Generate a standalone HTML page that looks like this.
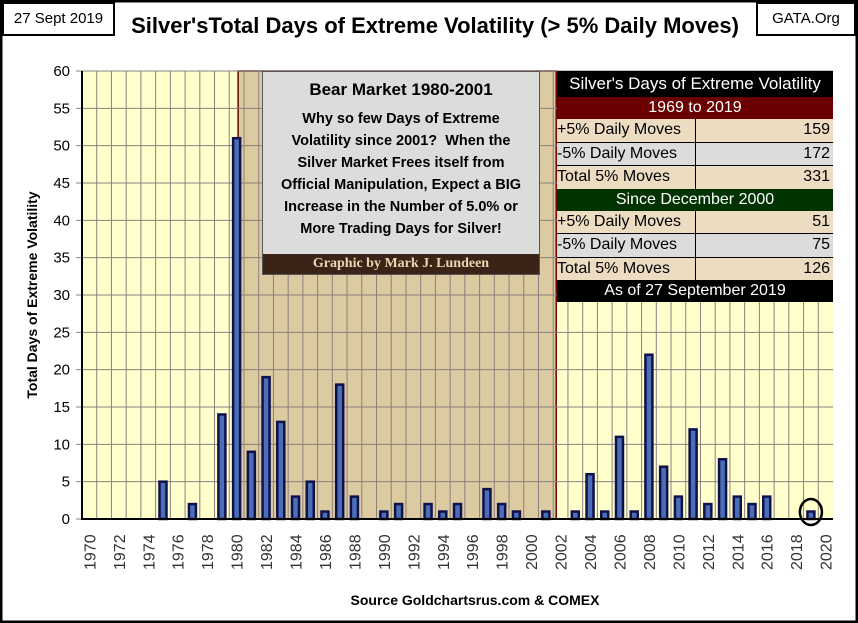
<!DOCTYPE html>
<html><head><meta charset="utf-8"><style>
body{margin:0;background:#fff;}
#wrap{position:relative;width:858px;height:623px;overflow:hidden;font-family:"Liberation Sans",sans-serif;}
.t{position:absolute;}
</style></head><body>
<div id="wrap">
<svg width="858" height="623" style="position:absolute;left:0;top:0">
<rect x="1" y="1" width="856" height="621" fill="#fff" stroke="#000" stroke-width="3"/>
<g id="plot"></g>
</svg>
<div class="t" style="left:2px;top:2px;width:109px;height:30px;border:2px solid #000;font-size:15px;line-height:30px;text-align:center;background:#fff">27 Sept 2019</div>
<div class="t" style="left:756px;top:2px;width:96px;height:30px;border:2px solid #000;font-size:15px;line-height:30px;text-align:center;background:#fff">GATA.Org</div>
<div class="t" style="left:115px;top:13px;width:640px;text-align:center;font-weight:bold;font-size:22px">Silver'sTotal Days of Extreme Volatility (&gt; 5% Daily Moves)</div>
<div class="t" style="left:32px;top:295px;width:0;height:0"><div style="transform:translate(-50%,-50%) rotate(-90deg);white-space:nowrap;font-weight:bold;font-size:14px;position:absolute">Total Days of Extreme Volatility</div></div>
<div class="t" style="left:250px;top:592px;width:450px;text-align:center;font-weight:bold;font-size:14px">Source Goldchartsrus.com &amp; COMEX</div>
<div class="t" style="left:262px;top:71px;width:276px;height:202px;background:#dcdcdc;border:1px solid #555;text-align:center;font-weight:bold">
<div style="font-size:17px;margin-top:8px">Bear Market 1980-2001</div>
<div style="font-size:14.5px;line-height:22px;margin-top:8px">Why so few Days of Extreme<br>Volatility since 2001?&nbsp; When the<br>Silver Market Frees itself from<br>Official Manipulation, Expect a BIG<br>Increase in the Number of 5.0% or<br>More Trading Days for Silver!</div>
<div style="position:absolute;left:0;right:0;bottom:0;height:20px;background:#3a2418;color:#e8d8b0;font-family:'Liberation Serif',serif;font-size:14px;line-height:20px">Graphic by Mark J. Lundeen</div>
</div>
<div class="t" style="left:557px;top:71px;width:276px;font-size:16px">
<div style="height:26px;background:#000;color:#fff;text-align:center;line-height:26px;font-size:17px">Silver's Days of Extreme Volatility</div>
<div style="height:22px;background:#6b0000;color:#fff;text-align:center;line-height:22px">1969 to 2019</div>
<div style="display:flex;height:22.5px;background:#ecdcc2;border-bottom:1px solid #000;line-height:22px"><span style="width:138px;border-right:1px solid #000">+5% Daily Moves</span><span style="flex:1;text-align:right;padding-right:3px">159</span></div>
<div style="display:flex;height:22.5px;background:#dcdcdc;border-bottom:1px solid #000;line-height:22px"><span style="width:138px;border-right:1px solid #000">-5% Daily Moves</span><span style="flex:1;text-align:right;padding-right:3px">172</span></div>
<div style="display:flex;height:22.5px;background:#ecdcc2;line-height:22px"><span style="width:138px;border-right:1px solid #000">Total 5% Moves</span><span style="flex:1;text-align:right;padding-right:3px">331</span></div>
<div style="height:22px;background:#003300;color:#fff;text-align:center;line-height:22px">Since December 2000</div>
<div style="display:flex;height:22.5px;background:#ecdcc2;border-bottom:1px solid #000;line-height:22px"><span style="width:138px;border-right:1px solid #000">+5% Daily Moves</span><span style="flex:1;text-align:right;padding-right:3px">51</span></div>
<div style="display:flex;height:22.5px;background:#dcdcdc;border-bottom:1px solid #000;line-height:22px"><span style="width:138px;border-right:1px solid #000">-5% Daily Moves</span><span style="flex:1;text-align:right;padding-right:3px">75</span></div>
<div style="display:flex;height:22.5px;background:#ecdcc2;line-height:22px"><span style="width:138px;border-right:1px solid #000">Total 5% Moves</span><span style="flex:1;text-align:right;padding-right:3px">126</span></div>
<div style="height:22px;background:#000;color:#fff;text-align:center;line-height:22px">As of 27 September 2019</div>
</div>
</div>
<script>
const years=[1970,1971,1972,1973,1974,1975,1976,1977,1978,1979,1980,1981,1982,1983,1984,1985,1986,1987,1988,1989,1990,1991,1992,1993,1994,1995,1996,1997,1998,1999,2000,2001,2002,2003,2004,2005,2006,2007,2008,2009,2010,2011,2012,2013,2014,2015,2016,2017,2018,2019,2020];
const days=[0,0,0,0,0,5,0,2,0,14,51,9,19,13,3,5,1,18,3,0,1,2,0,2,1,2,0,4,2,1,0,1,0,1,6,1,11,1,22,7,3,12,2,8,3,2,3,0,0,1,0];
const yTicks=[0,5,10,15,20,25,30,35,40,45,50,55,60];
const L=82,R=833,T=71,B=519,NS="http://www.w3.org/2000/svg";
const slot=(R-L)/years.length;
const xs=i=>L+(i+0.5)*slot;
const ys=v=>B-(v/60)*(B-T);
const g=document.getElementById('plot');
function mk(t,a){const e=document.createElementNS(NS,t);for(const k in a)e.setAttribute(k,a[k]);g.appendChild(e);return e;}
const bg=mk('rect',{x:L,y:T,width:R-L,height:B-T,fill:'#ffffcc'});


const i80=years.indexOf(1980),i02=years.indexOf(2002);
const sh=mk('rect',{x:xs(i80)+1.5,y:T,width:L+i02*slot+3-(xs(i80)+1.5),height:B-T,fill:'#dccaa0',stroke:'#6b0000','stroke-width':1.5});


for(let i=1;i<years.length;i++){const l=mk('line',{x1:L+i*slot,x2:L+i*slot,y1:T,y2:B,stroke:'#8a8080','stroke-width':1});

}
yTicks.forEach(v=>{const l=mk('line',{x1:L-6,x2:R,y1:ys(v),y2:ys(v),stroke:'#8a8080','stroke-width':1});


const t=mk('text',{x:L-12,y:ys(v)+5,'text-anchor':'end','font-size':15,'font-family':'Liberation Sans, sans-serif'});t.textContent=v;

});
days.forEach((v,i)=>{if(v<=0)return;const b=mk('rect',{x:xs(i)-3.5,y:ys(v),width:7,height:B-ys(v),fill:'#4a6fb8',stroke:'#10104a','stroke-width':2.5});

});
years.forEach((y,i)=>{if(y%2)return;const t=mk('text',{transform:`translate(${xs(i)+6},570) rotate(-90)`,'font-size':16,fill:'#333','font-family':'Liberation Sans, sans-serif'});t.textContent=y;

});
const ax=mk('path',{d:`M${L},${T}V${B}H${R}`,fill:'none',stroke:'#000','stroke-width':2});


const c=mk('ellipse',{cx:xs(years.indexOf(2019)),cy:512,rx:11,ry:13,fill:'none',stroke:'#000','stroke-width':2.5});


</script>
</body></html>
